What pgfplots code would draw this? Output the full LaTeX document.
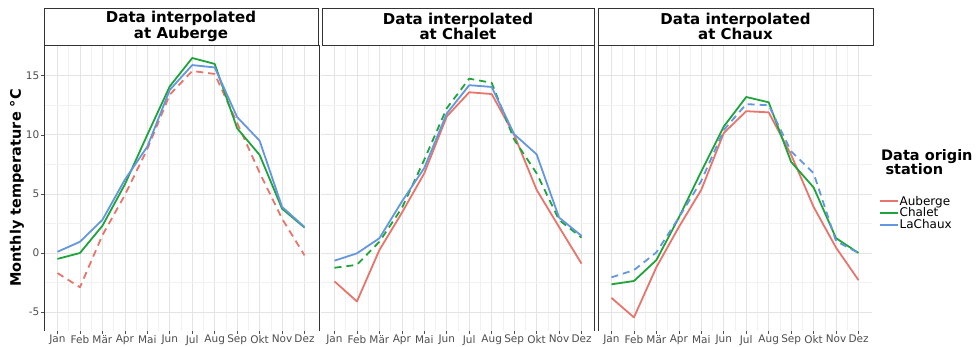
\documentclass[border=0pt]{standalone}
\usepackage{fontspec}
\setmainfont{DejaVu Sans}
\usepackage{pgfplots}
\pgfplotsset{compat=1.18}

\definecolor{cAub}{HTML}{E8756C}
\definecolor{cCha}{HTML}{1FA43C}
\definecolor{cLaC}{HTML}{6497DE}
\definecolor{gridmaj}{HTML}{E4E4E4}
\definecolor{gridmin}{HTML}{F1F1F1}
\definecolor{axgrey}{HTML}{4D4D4D}
\definecolor{frame}{HTML}{333333}

\pgfplotsset{
 panel/.style={
  scale only axis, width=274pt, height=286pt,
  xmin=0.4, xmax=12.6, ymin=-6.6, ymax=17.6,
  xtick={1,...,12},
  xticklabels={Jan,Feb,Mär,Apr,Mai,Jun,Jul,Aug,Sep,Okt,Nov,Dez},
  minor xtick={1.5,2.5,...,11.5},
  ytick={-5,0,5,10,15}, minor ytick={-2.5,2.5,7.5,12.5},
  grid=both,
  major grid style={gridmaj, line width=0.7pt},
  minor grid style={gridmin, line width=0.5pt},
  axis line style={draw=none},
  tick align=outside, major tick length=3pt, minor tick length=0pt,
  tick style={axgrey, line width=0.6pt},
  xtick pos=lower, ytick pos=left,
  ticklabel style={font=\fontsize{10.5}{11}\selectfont, text=axgrey},
  xticklabel style={inner sep=1pt},
  yticklabel style={inner sep=1.5pt},
  /pgf/number format/assume math mode=true,
  every axis plot/.append style={line width=1.8pt, line join=round, line cap=butt},
 },
 dsh/.style={dash pattern=on 7pt off 5pt},
}

\begin{document}
\begin{tikzpicture}
\path[use as bounding box] (0pt,0pt) rectangle (980pt,347pt);

% Panel 1: Auberge
\begin{axis}[panel, at={(44pt,16pt)}, anchor=south west]
\addplot[cAub, dsh] coordinates {(1,-1.7) (2,-2.9) (3,1.5) (4,4.9) (5,8.8) (6,13.4) (7,15.4) (8,15.15) (9,11.0) (10,6.8) (11,2.9) (12,-0.2)};
\addplot[cCha] coordinates {(1,-0.5) (2,0.0) (3,2.3) (4,5.8) (5,10.0) (6,14.1) (7,16.5) (8,16.0) (9,10.55) (10,8.3) (11,3.75) (12,2.15)};
\addplot[cLaC] coordinates {(1,0.1) (2,0.95) (3,2.8) (4,6.2) (5,9.0) (6,13.8) (7,15.9) (8,15.7) (9,11.5) (10,9.5) (11,3.9) (12,2.2)};
\end{axis}

% Panel 2: Chalet
\begin{axis}[panel, at={(321pt,16pt)}, anchor=south west, yticklabels={}, ytick style={draw=none}]
\addplot[cAub] coordinates {(1,-2.4) (2,-4.1) (3,0.25) (4,3.4) (5,6.75) (6,11.55) (7,13.6) (8,13.45) (9,10.0) (10,5.35) (11,2.2) (12,-0.9)};
\addplot[cCha, dsh] coordinates {(1,-1.25) (2,-1.0) (3,0.95) (4,3.8) (5,7.9) (6,12.25) (7,14.75) (8,14.4) (9,9.6) (10,6.75) (11,2.8) (12,1.3)};
\addplot[cLaC] coordinates {(1,-0.65) (2,-0.03) (3,1.25) (4,4.35) (5,7.2) (6,11.8) (7,14.2) (8,14.05) (9,10.05) (10,8.35) (11,3.0) (12,1.45)};
\end{axis}

% Panel 3: Chaux
\begin{axis}[panel, at={(598pt,16pt)}, anchor=south west, yticklabels={}, ytick style={draw=none},
  legend style={at={(1.025,0.412)}, anchor=west, draw=none, fill=none,
    font=\fontsize{12}{12}\selectfont, row sep=0pt, inner sep=0pt,
    nodes={inner sep=0.6pt}},
  legend cell align=left,
  legend image code/.code={\draw[#1, line width=2.2pt, solid] (0pt,0pt) -- (6.5pt,0pt); \path (0pt,0pt) -- (18pt,0pt);}]
\addlegendimage{cAub}\addlegendentry{Auberge}
\addlegendimage{cCha}\addlegendentry{Chalet}
\addlegendimage{cLaC}\addlegendentry{LaChaux}
\addplot[cAub, forget plot] coordinates {(1,-3.8) (2,-5.45) (3,-1.2) (4,2.2) (5,5.35) (6,10.15) (7,12.0) (8,11.9) (9,8.3) (10,3.9) (11,0.45) (12,-2.3)};
\addplot[cCha, forget plot] coordinates {(1,-2.65) (2,-2.37) (3,-0.6) (4,3.0) (5,6.9) (6,10.7) (7,13.2) (8,12.75) (9,7.7) (10,5.55) (11,1.25) (12,0.0)};
\addplot[cLaC, dsh, forget plot] coordinates {(1,-2.06) (2,-1.45) (3,0.05) (4,3.0) (5,6.1) (6,10.4) (7,12.6) (8,12.5) (9,8.6) (10,6.75) (11,1.0) (12,0.0)};
\end{axis}

% panel frame lines
\draw[frame, line width=0.8pt] (44pt,16pt) -- (44pt,302pt);
\draw[frame, line width=0.8pt] (319pt,16pt) -- (319pt,302pt);
\draw[frame, line width=0.8pt] (594pt,16pt) -- (594pt,302pt);
\draw[frame, line width=0.8pt] (598pt,16pt) -- (598pt,302pt);

% strips
\draw[frame, line width=0.8pt, fill=white] (44pt,302pt) rectangle (318pt,339pt);
\draw[frame, line width=0.8pt, fill=white] (322pt,302pt) rectangle (594pt,339pt);
\draw[frame, line width=0.8pt, fill=white] (598pt,302pt) rectangle (873pt,339pt);
\node[align=center, font=\bfseries\fontsize{15}{15.5}\selectfont] at (181pt,320.5pt) {Data interpolated\\at Auberge};
\node[align=center, font=\bfseries\fontsize{15}{15.5}\selectfont] at (458pt,320.5pt) {Data interpolated\\at Chalet};
\node[align=center, font=\bfseries\fontsize{15}{15.5}\selectfont] at (735.5pt,320.5pt) {Data interpolated\\at Chaux};

% y label
\node[rotate=90, font=\bfseries\fontsize{14.5}{16}\selectfont] at (17pt,159pt) {Monthly temperature °C};

% legend title
\node[anchor=north west, align=left, inner sep=0pt, font=\bfseries\fontsize{14.5}{14.5}\selectfont] at (881pt,198pt) {Data origin\\\hspace*{0.3em}station};
\end{tikzpicture}
\end{document}
